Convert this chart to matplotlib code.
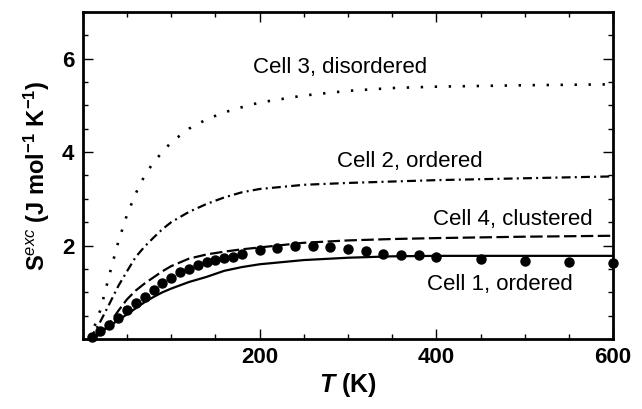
import matplotlib
matplotlib.use("Agg")
import matplotlib.pyplot as plt
from matplotlib.ticker import MultipleLocator

plt.rcParams['font.family'] = ['Liberation Sans', 'DejaVu Sans']
plt.rcParams['mathtext.fontset'] = 'custom'
plt.rcParams['mathtext.rm'] = 'Liberation Sans'
plt.rcParams['mathtext.bf'] = 'Liberation Sans:bold'
plt.rcParams['mathtext.it'] = 'Liberation Sans:italic'
plt.rcParams['mathtext.bfit'] = 'Liberation Sans:bold:italic'

# experimental points
T_exp = [10, 20, 30, 40, 50, 60, 70, 80, 90, 100, 110, 120, 130, 140, 150, 160, 170, 180,
         200, 220, 240, 260, 280, 300, 320, 340, 360, 380, 400, 450, 500, 550, 600]
S_exp = [0.05, 0.17, 0.30, 0.45, 0.62, 0.77, 0.91, 1.06, 1.20, 1.31, 1.43, 1.50, 1.58, 1.65,
         1.70, 1.74, 1.76, 1.81, 1.90, 1.94, 2.00, 2.00, 1.96, 1.93, 1.88, 1.83, 1.80, 1.80,
         1.76, 1.71, 1.67, 1.65, 1.63]

# calculated curves
T_calc = [8, 20, 30, 40, 50, 60, 70, 80, 90, 100, 120, 140, 160, 180, 200, 250, 300, 350, 400, 500, 600]
S_cell1 = [0, 0.14, 0.28, 0.40, 0.53, 0.66, 0.79, 0.90, 1.00, 1.08, 1.22, 1.33, 1.46, 1.54,
           1.60, 1.69, 1.74, 1.77, 1.78, 1.78, 1.78]
S_cell2 = [0, 0.38, 0.75, 1.13, 1.45, 1.76, 1.98, 2.17, 2.35, 2.50, 2.72, 2.89, 3.03, 3.14,
           3.21, 3.30, 3.34, 3.37, 3.40, 3.44, 3.48]
S_cell3 = [0, 0.63, 1.37, 2.07, 2.66, 3.12, 3.50, 3.78, 4.00, 4.21, 4.50, 4.70, 4.85, 4.96,
           5.06, 5.21, 5.31, 5.37, 5.40, 5.43, 5.45]
S_cell4 = [0, 0.10, 0.33, 0.60, 0.85, 1.04, 1.19, 1.32, 1.45, 1.56, 1.72, 1.81, 1.87, 1.92,
           1.96, 2.06, 2.11, 2.14, 2.16, 2.19, 2.21]

labels = ["Cell 1, ordered", "Cell 2, ordered", "Cell 3, disordered", "Cell 4, clustered"]
label_pos = [(472, 1.16), (370, 3.79), (291, 5.82), (486, 2.55)]

fig = plt.figure(figsize=(6.42, 4.09), dpi=100)
ax = fig.add_axes([0.129, 0.171, 0.826, 0.8])

ax.plot(T_calc, S_cell1, color='black', lw=1.6, ls='-')
ax.plot(T_calc, S_cell2, color='black', lw=1.6, ls=(0, (4.0, 1.9, 0.9, 1.9)))
ax.plot(T_calc, S_cell3, color='black', lw=1.9, ls=(0, (0.9, 4.4)))
ax.plot(T_calc, S_cell4, color='black', lw=1.6, ls=(0, (5.6, 2.0)))
ax.plot(T_exp, S_exp, 'o', color='black', ms=6.5, clip_on=False, zorder=5)

for txt, (x, y) in zip(labels, label_pos):
    ax.text(x, y, txt, fontsize=16, ha='center', va='center')

ax.set_xlim(0, 600)
ax.set_ylim(0, 7)
ax.xaxis.set_major_locator(MultipleLocator(200))
ax.xaxis.set_minor_locator(MultipleLocator(50))
ax.yaxis.set_major_locator(MultipleLocator(2))
ax.yaxis.set_minor_locator(MultipleLocator(0.5))
ax.set_xticks([200, 400, 600])
ax.set_yticks([2, 4, 6])

ax.tick_params(which='both', direction='in', top=True, right=True, width=1)
ax.tick_params(which='major', length=7, labelsize=16, pad=6)
ax.tick_params(which='minor', length=3.5)
for lab in ax.get_xticklabels() + ax.get_yticklabels():
    lab.set_fontweight('bold')
for sp in ax.spines.values():
    sp.set_linewidth(2)

ax.set_xlabel(r'$\mathbfit{T}$ (K)', fontsize=18, fontweight='bold', labelpad=2)
ax.set_ylabel(r'$\mathbf{S}^{\mathit{exc}}$ (J mol$^{\mathbf{-1}}$ K$^{\mathbf{-1}}$)',
              fontsize=17, fontweight='bold', labelpad=7)

fig.savefig('out.png', dpi=100)
